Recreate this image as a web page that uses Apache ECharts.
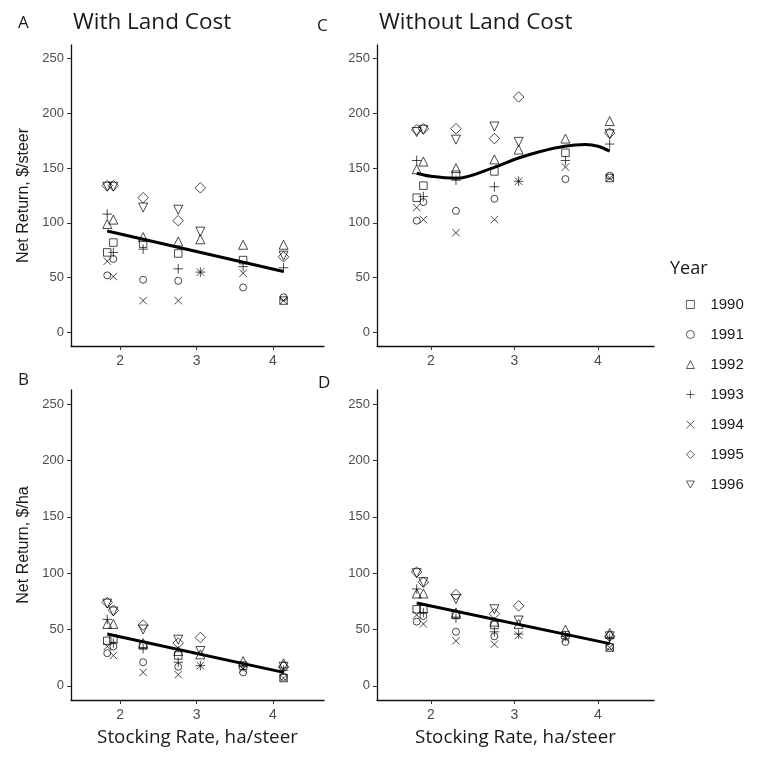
<!DOCTYPE html>
<html><head><meta charset="utf-8">
<script src="https://cdn.jsdelivr.net/npm/echarts@6/dist/echarts.min.js"></script>
<style>html,body{margin:0;padding:0;background:#fff}#c{width:760px;height:760px}</style>
</head><body><div id="c"></div><script>
// ---- data ----
const stockingRate = [1.83, 1.91, 2.30, 2.76, 3.05, 3.61, 4.14];
const years = ['1990', '1991', '1992', '1993', '1994', '1995', '1996'];
const tickX = [2, 3, 4];
const tickY = [0, 50, 100, 150, 200, 250];
// rows = years (1990..1996), columns = stocking rates; null = no observation
const steerWithLand = [
  [73, 82, 81, 72, null, 66, 29],
  [52, 67, 48, 47, null, 41, 32],
  [99, 103, 87, 83, 85, 80, 80],
  [108, 73, 76, 58, 55, 60, 59],
  [65, 51, 29, 29, 55, 54, 29],
  [134, 134, 123, 102, 132, null, 69],
  [133, 133, 114, 112, 92, null, 70]
];
const steerWithoutLand = [
  [123, 134, 144, 147, null, 164, 141],
  [102, 119, 111, 122, null, 140, 143],
  [149, 156, 150, 158, 167, 177, 193],
  [157, 124, 139, 133, 138, 157, 172],
  [114, 103, 91, 103, 138, 151, 141],
  [185, 186, 186, 177, 215, null, 182],
  [183, 185, 176, 188, 174, null, 181]
];
const haWithLand = [
  [40, 42, 36, 27, null, 18, 7],
  [29, 35, 21, 17, null, 12, 8],
  [55, 55, 38, 31, 28, 22, 20],
  [59, 38, 33, 21, 18, 17, 14],
  [35, 27, 12, 10, 18, 15, 7],
  [74, 67, 54, 38, 43, null, 17],
  [73, 66, 50, 41, 31, null, 17]
];
const haWithoutLand = [
  [68, 68, 63, 54, null, 45, 34],
  [57, 62, 48, 44, null, 39, 35],
  [82, 82, 65, 57, 55, 50, 47],
  [86, 65, 60, 48, 46, 44, 42],
  [63, 55, 40, 37, 45, 42, 34],
  [101, 92, 81, 64, 71, null, 44],
  [100, 92, 77, 68, 58, null, 44]
];
// fitted trends
const fitAX = [1.83, 4.14], fitAY = [92.5, 55.5];
const fitCX = [1.83, 2.0, 2.3, 2.75, 3.04, 3.3, 3.6, 3.85, 4.0, 4.14];
const fitCY = [145.3, 142.5, 140.7, 150.5, 159, 165, 170, 171.5, 170, 165.5];
const fitBX = [1.83, 4.14], fitBY = [46, 12];
const fitDX = [1.83, 4.14], fitDY = [73.5, 37.5];

// ---- styles ----
const yearSymbols = ['rect', 'circle', 'triangle',
  'path://M5,0L5,10M0,5L10,5', 'path://M0,0L10,10M10,0L0,10',
  'diamond', 'path://M0,0L10,0L5,8.66Z'];
const yearSizes = [7.5, 7, 9, 9.5, 7.5, 10.5, 9];
const tickFont = 'Liberation Sans';
const titleFont = 'Open Sans';
const vTitleFont = 'Liberation Sans';

const grids = [
  { left: 71, top: 45, width: 253, height: 301 },
  { left: 377, top: 45, width: 277, height: 301 },
  { left: 71, top: 390, width: 253, height: 310 },
  { left: 377, top: 390, width: 277, height: 310 }
];
const panelData = [steerWithLand, steerWithoutLand, haWithLand, haWithoutLand];
const fits = [[fitAX, fitAY, false], [fitCX, fitCY, true], [fitBX, fitBY, false], [fitDX, fitDY, false]];

function xAxis(i, named) {
  return {
    gridIndex: i, type: 'value', min: 1.355, max: 4.67,
    splitLine: { show: false },
    axisLine: { onZero: false, lineStyle: { color: '#111', width: 1.3 } },
    axisTick: { customValues: tickX, length: 4, lineStyle: { color: '#333', width: 1 } },
    axisLabel: { customValues: tickX, color: '#4d4d4d', fontSize: 14, margin: 8, fontFamily: tickFont },
    name: named ? 'Stocking Rate, ha/steer' : '',
    nameLocation: 'middle', nameGap: 28,
    nameTextStyle: { color: '#1a1a1a', fontSize: 18.8, fontFamily: titleFont }
  };
}
function yAxis(i, name) {
  return {
    gridIndex: i, type: 'value', min: -12.5, max: 262.5,
    splitLine: { show: false },
    axisLine: { onZero: false, lineStyle: { color: '#111', width: 1.3 } },
    axisTick: { customValues: tickY, length: 4, lineStyle: { color: '#333', width: 1 } },
    axisLabel: { customValues: tickY, color: '#4d4d4d', fontSize: 13, margin: 7, fontFamily: tickFont },
    name: name, nameLocation: 'middle', nameGap: 39, nameRotate: 90,
    nameTextStyle: { color: '#1a1a1a', fontSize: 16, fontFamily: vTitleFont }
  };
}

const series = [];
panelData.forEach((vals, p) => {
  years.forEach((yr, i) => {
    const pts = [];
    stockingRate.forEach((x, j) => { if (vals[i][j] != null) pts.push([x, vals[i][j]]); });
    series.push({
      type: 'scatter', name: yr, xAxisIndex: p, yAxisIndex: p,
      data: pts, symbol: yearSymbols[i], symbolSize: yearSizes[i],
      itemStyle: { color: 'rgba(0,0,0,0)', borderColor: '#000', borderWidth: 0.9 },
      emphasis: { disabled: true }, z: 3
    });
  });
  const f = fits[p];
  series.push({
    type: 'line', name: 'fit' + p, xAxisIndex: p, yAxisIndex: p,
    data: f[0].map((x, k) => [x, f[1][k]]), smooth: f[2] ? 0.35 : false,
    showSymbol: false, symbol: 'none',
    lineStyle: { color: '#000', width: 3 }, z: 4, silent: true
  });
});

const lt = (t, l, tp, fs) => ({ text: t, left: l, top: tp, textStyle: { fontSize: fs, fontWeight: 'normal', color: '#1a1a1a', fontFamily: titleFont } });
const chart = echarts.init(document.getElementById('c'), null, { renderer: 'canvas' });
chart.setOption({
  backgroundColor: '#fff',
  animation: false,
  title: [
    lt('A', 13, 10, 17),
    lt('With Land Cost', 68, 6, 22.5),
    lt('C', 312, 13, 17),
    lt('Without Land Cost', 374, 6, 22.5),
    lt('B', 13, 367, 17),
    lt('D', 313, 370, 17),
    lt('Year', 665, 255, 18)
  ],
  legend: {
    data: years, orient: 'vertical', left: 681, top: 292,
    itemWidth: 8, itemHeight: 8, itemGap: 15,
    itemStyle: { borderWidth: 0.8 },
    textStyle: { color: '#1a1a1a', fontSize: 15, fontFamily: tickFont, padding: [0, 0, 0, 11] },
    selectedMode: false
  },
  grid: grids,
  xAxis: [xAxis(0, false), xAxis(1, false), xAxis(2, true), xAxis(3, true)],
  yAxis: [yAxis(0, 'Net Return, $/steer'), yAxis(1, ''), yAxis(2, 'Net Return, $/ha'), yAxis(3, '')],
  series: series
});
</script></body></html>
